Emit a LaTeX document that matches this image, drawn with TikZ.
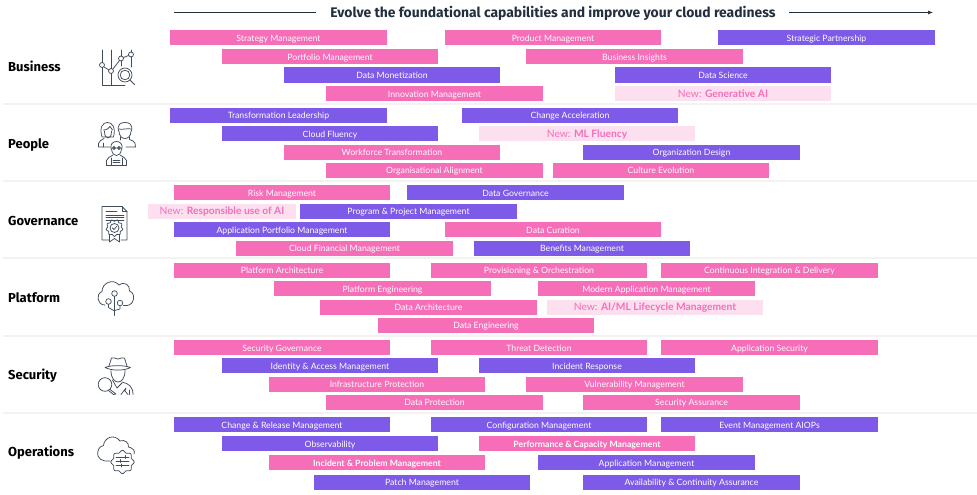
\documentclass[tikz,border=0pt]{standalone}
\usepackage{fontspec}
\usetikzlibrary{arrows.meta}
\setmainfont{Lato}
\newfontfamily\headfont{Fira Sans}
\definecolor{pinkbar}{HTML}{F66DB8}
\definecolor{purplebar}{HTML}{7D5AE8}
\definecolor{lightbar}{HTML}{FDE0F0}
\definecolor{inkdark}{HTML}{232F3E}
\definecolor{iconink}{HTML}{414D5C}
\definecolor{sepline}{HTML}{F2F2F2}
\tikzset{
  barbase/.style={inner sep=0pt,minimum height=15pt,text height=8.2pt,text depth=0.6pt,anchor=center,font=\fontsize{8.7}{10}\selectfont},
  pinkb/.style={barbase,fill=pinkbar,text=white},
  purpleb/.style={barbase,fill=purplebar,text=white},
  lightb/.style={barbase,fill=lightbar,text=pinkbar,font=\fontsize{10.25}{11}\selectfont},
  rowlabel/.style={anchor=west,inner sep=0pt,text height=9pt,text depth=0pt,font=\headfont\bfseries\fontsize{13}{14}\selectfont,text=black},
  sep/.style={draw=sepline,line width=1.6pt},
  ic/.style={draw=iconink,line width=0.75pt,line join=round,line cap=round,fill=none},
  headline/.style={draw=inkdark,line width=0.7pt},
}
% name, x1, x2, y, style, text
\newcommand{\cbar}[6]{\node[#5,minimum width=#3pt-#2pt] (#1) at ({(#2+#3)/2},#4) {#6};}
\begin{document}
\begin{tikzpicture}[x=1pt,y=-1pt]
\useasboundingbox (0,0) rectangle (977,495);
\fill[white] (0,0) rectangle (977,495);
% header
\node[inner sep=0pt,text=inkdark,font=\headfont\bfseries\fontsize{13.9}{15}\selectfont] (title) at (553,13) {Evolve the foundational capabilities and improve your cloud readiness};
\coordinate (la) at (174,12.5); \coordinate (lb) at (316,12.5);
\coordinate (ra) at (789,12.5); \coordinate (rb) at (933,12.5);
\draw[headline] (la) -- (lb);
\draw[headline,-{Latex[length=5pt,width=4pt]}] (ra) -- (rb);
% separators
\foreach \yy/\nn in {104/a,181/b,258/c,336/d,413/e}{
  \coordinate (s\nn l) at (3,\yy); \coordinate (s\nn r) at (977,\yy);
  \draw[sep] (s\nn l) -- (s\nn r);
}
% labels
\node[rowlabel] (lbus) at (8,66.5) {Business};
\node[rowlabel] (lpeo) at (8,143.5) {People};
\node[rowlabel] (lgov) at (8,220.5) {Governance};
\node[rowlabel] (lpla) at (8,297.5) {Platform};
\node[rowlabel] (lsec) at (8,374.5) {Security};
\node[rowlabel] (lope) at (8,451.5) {Operations};
% Business
\cbar{b1}{170}{387}{38}{pinkb}{Strategy Management}
\cbar{b2}{445}{661}{38}{pinkb}{Product Management}
\cbar{b3}{718}{935}{38}{purpleb}{Strategic Partnership}
\cbar{b4}{222}{438}{56.5}{pinkb}{Portfolio Management}
\cbar{b5}{526}{743}{56.5}{pinkb}{Business Insights}
\cbar{b6}{284}{500}{75}{purpleb}{Data Monetization}
\cbar{b7}{615}{831}{75}{purpleb}{Data Science}
\cbar{b8}{326}{543}{93.5}{pinkb}{Innovation Management}
\cbar{b9}{615}{831}{93.5}{lightb}{New: \textbf{Generative AI}}
% People
\cbar{p1}{170}{387}{115}{purpleb}{Transformation Leadership}
\cbar{p2}{462}{678}{115}{purpleb}{Change Acceleration}
\cbar{p3}{222}{438}{133.5}{purpleb}{Cloud Fluency}
\cbar{p4}{479}{695}{133.5}{lightb}{New: \textbf{ML Fluency}}
\cbar{p5}{284}{500}{152}{pinkb}{Workforce Transformation}
\cbar{p6}{583}{800}{152}{purpleb}{Organization Design}
\cbar{p7}{326}{543}{170}{pinkb}{Organisational Alignment}
\cbar{p8}{553}{769}{170}{pinkb}{Culture Evolution}
% Governance
\cbar{g1}{174}{390}{192.5}{pinkb}{Risk Management}
\cbar{g2}{407}{624}{192.5}{purpleb}{Data Governance}
\cbar{g3}{148}{296}{211}{lightb}{New: \textbf{Responsible use of AI}}
\cbar{g4}{300}{517}{211}{purpleb}{Program \& Project Management}
\cbar{g5}{174}{390}{229.5}{purpleb}{Application Portfolio Management}
\cbar{g6}{445}{661}{229.5}{pinkb}{Data Curation}
\cbar{g7}{236}{453}{248}{pinkb}{Cloud Financial Management}
\cbar{g8}{474}{690}{248}{purpleb}{Benefits Management}
% Platform
\cbar{l1}{174}{390}{270}{pinkb}{Platform Architecture}
\cbar{l2}{431}{647}{270}{pinkb}{Provisioning \& Orchestration}
\cbar{l3}{661}{878}{270}{pinkb}{Continuous Integration \& Delivery}
\cbar{l4}{274}{491}{288.5}{pinkb}{Platform Engineering}
\cbar{l5}{538}{755}{288.5}{pinkb}{Modern Application Management}
\cbar{l6}{320}{537}{307}{pinkb}{Data Architecture}
\cbar{l7}{547}{763}{307}{lightb}{New: \textbf{AI/ML Lifecycle Management}}
\cbar{l8}{378}{594}{325}{pinkb}{Data Engineering}
% Security
\cbar{s1}{174}{390}{347.5}{pinkb}{Security Governance}
\cbar{s2}{431}{647}{347.5}{pinkb}{Threat Detection}
\cbar{s3}{661}{878}{347.5}{pinkb}{Application Security}
\cbar{s4}{222}{438}{365.5}{purpleb}{Identity \& Access Management}
\cbar{s5}{479}{695}{365.5}{purpleb}{Incident Response}
\cbar{s6}{269}{485}{384}{pinkb}{Infrastructure Protection}
\cbar{s7}{526}{743}{384}{pinkb}{Vulnerability Management}
\cbar{s8}{326}{543}{402}{pinkb}{Data Protection}
\cbar{s9}{583}{800}{402}{pinkb}{Security Assurance}
% Operations
\cbar{o1}{174}{390}{424.5}{purpleb}{Change \& Release Management}
\cbar{o2}{431}{647}{424.5}{purpleb}{Configuration Management}
\cbar{o3}{661}{878}{424.5}{purpleb}{Event Management AIOPs}
\cbar{o4}{222}{438}{443.5}{purpleb}{Observability}
\cbar{o5}{479}{695}{443.5}{pinkb}{\textbf{Performance \& Capacity Management}}
\cbar{o6}{269}{485}{462.5}{pinkb}{\textbf{Incident \& Problem Management}}
\cbar{o7}{538}{755}{462.5}{purpleb}{Application Management}
\cbar{o8}{314}{530}{482}{purpleb}{Patch Management}
\cbar{o9}{583}{800}{482}{purpleb}{Availability \& Continuity Assurance}
% Icon: business
\draw[ic] (102,50) -- (102,62.5) (102,67.5) -- (102,85) -- (125,85);
\draw[ic] (111,50) -- (111,68.5) (111,73.5) -- (111,85);
\draw[ic] (121,50) -- (121,56) (121,61) -- (121,66);
\draw[ic] (131,50) -- (131,52) (131,57) -- (131,67);
\draw[ic] (102,65) circle (2.5) (111,71) circle (2.5) (121,58.5) circle (2.5) (131,54.5) circle (2.5);
\draw[ic] (104,67) -- (109,70) (113,69) -- (119.5,60.5) (123.5,57.5) -- (128.5,55.5);
\draw[ic] (125,75) circle (7) (125,75) circle (4.8);
\draw[ic] (130,80) -- (134.5,84.5);
% Icon: people - woman
\draw[ic] (102,137) .. controls (99,127) and (103,122.5) .. (107.5,122.5) .. controls (112,122.5) and (116,127) .. (113.5,137) -- (102,137);
\draw[ic] (103.5,130) .. controls (107,130) and (109,128) .. (110,126.5) .. controls (111,128) and (112,129) .. (112.5,130);
\draw[ic] (104.5,131) .. controls (104.5,136) and (106,138) .. (108,138) .. controls (110,138) and (111.5,136) .. (111.5,131);
\draw[ic] (98.5,147) -- (98.5,143.5) .. controls (99,140.5) and (102,140) .. (104,138.5) (98.5,147) -- (110,147);
\draw[ic] (103,143) -- (103,147);
% man
\draw[ic] (118.5,131) .. controls (117,124) and (121,122.5) .. (125,122.5) .. controls (129,122.5) and (133,124) .. (131.5,131);
\draw[ic] (118.5,129) .. controls (122,130) and (128,128) .. (131.5,129);
\draw[ic] (119,131) .. controls (119,136) and (122,138.5) .. (125,138.5) .. controls (128,138.5) and (131,136) .. (131,131);
\draw[ic] (129.5,137) -- (129.5,139.5) -- (133,141) .. controls (135,142) and (135.5,144) .. (135.5,147) -- (126,147);
\draw[ic] (120.5,137) -- (120.5,140);
% third person
\draw[ic] (111,149) .. controls (110,144) and (113,141.5) .. (116.5,141.5) .. controls (120,141.5) and (123,144) .. (122,149);
\draw[ic] (111.5,149) .. controls (112,154) and (114.5,155.5) .. (116.5,155.5) .. controls (118.5,155.5) and (121,154) .. (121.5,149);
\draw[ic] (111.5,148) -- (121.5,148) (114,148) circle (1.6) (119,148) circle (1.6);
\draw[ic] (106.5,165.5) -- (106.5,160.5) .. controls (107,158) and (110,157) .. (113,155) (120,155) .. controls (123,157) and (126,158) .. (126.5,160.5) -- (126.5,165.5) -- (106.5,165.5);
\draw[ic] (111,165.5) -- (111,158) (122,165.5) -- (122,158) (113,160) -- (120,160) (113,162) -- (120,162);
% Icon: governance
\draw[ic] (102,206.5) -- (122,206.5) -- (127,211.5) -- (127,240) -- (121,240) (109,240) -- (102,240) -- (102,206.5);
\draw[ic] (122,206.5) -- (122,211.5) -- (127,211.5);
\draw[ic] (106,211) -- (117,211) (106,215) -- (124,215) (106,217.5) -- (124,217.5) (106,220) -- (124,220);
\draw[ic] (114.5,228) circle (4.5);
\draw[ic] plot[smooth cycle,samples=36,domain=0:350] ({114.5+(7.6+0.9*cos(9*\x))*sin(\x)},{228+(7.6+0.9*cos(9*\x))*cos(\x)});
\draw[ic] (112.5,228) -- (114,229.5) -- (116.5,226.5);
\draw[ic] (109.5,234.5) -- (109.5,242) -- (114.5,238.5) -- (119.5,242) -- (119.5,234.5);
% Icon: platform
\draw[ic] (105,305) .. controls (97,305) and (95.5,294) .. (102,291.5) .. controls (102,283) and (113,278) .. (119,285) .. controls (125,281) and (130,285) .. (129.5,291) .. controls (136,293) and (134.5,305) .. (127,305.5) -- (123.5,305.5);
\draw[ic] (114.5,293.5) circle (2.8) (108.5,301.5) circle (2.8) (120,303) circle (2.8);
\draw[ic] (114.5,296.5) -- (114.5,315.5);
\draw[ic] (108.5,304.5) -- (108.5,307.5) -- (114.5,311);
\draw[ic] (120,306) -- (120,309) -- (114.5,310.5);
% Icon: security
\draw[ic] (109,366) -- (111.5,358) .. controls (114,357) and (116,359) .. (118,359) .. controls (120,359) and (122,357) .. (124.5,358) -- (127,366);
\draw[ic] (105,367.5) .. controls (112,371) and (124,371) .. (130.5,367.5) .. controls (124,365) and (111,365) .. (105,367.5);
\draw[ic] (111,370.5) .. controls (111,379) and (115,382) .. (118,382) .. controls (121,382) and (125,379) .. (125,370.5);
\draw[ic] (112.5,380) -- (117,388) -- (122,383);
\draw[ic] (122,382) .. controls (129,383.5) and (133,387) .. (133,394.5);
\draw[ic] (105,384.5) circle (6.8);
\draw[ic] (110,389.5) -- (116,394) -- (113.5,394.5) -- (108.5,390.5);
\draw[ic] (126,388) -- (121,394.5) (126,388) -- (125,391) -- (128,394.5);
\draw[ic] (129,394.5) -- (129,390);
% Icon: operations
\draw[ic] (110,461) .. controls (103,462) and (96,459) .. (98,451) .. controls (99,447) and (102,445.5) .. (103.5,445.5) .. controls (104,438) and (114,433) .. (120,441) .. controls (125,439) and (129,443) .. (128.5,447) .. controls (133,448) and (135.5,451) .. (134,454);
\draw[ic] plot[smooth cycle,samples=48,domain=0:352.5] ({122.5+(10.6+1.1*cos(8*\x))*sin(\x)},{462+(10.6+1.1*cos(8*\x))*cos(\x)});
\draw[ic] (116,457) -- (129,457) (116,461) -- (129,461) (116,465.5) -- (129,465.5);
\draw[ic] (125,455.5) -- (125,458.5) (120,459.5) -- (120,462.5) (121,464) -- (121,467);
\end{tikzpicture}
\end{document}
